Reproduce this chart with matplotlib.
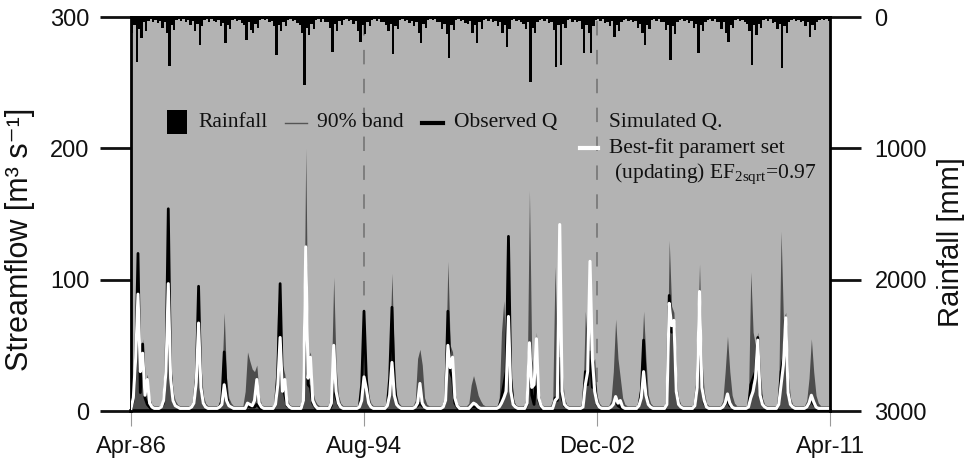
import matplotlib
matplotlib.use("Agg")
import matplotlib.pyplot as plt
from matplotlib.lines import Line2D
from matplotlib.patches import Rectangle
import numpy as np

# ── Colours ──────────────────────────────────────────────────────────────────
BG_PLOT = "#B3B3B3"   # light grey plotting area
BAND    = "#4D4D4D"   # 90% uncertainty band
DASH    = "#7A7A7A"   # period separators
TXT     = "#111111"

plt.rcParams["font.family"] = ["Liberation Sans", "DejaVu Sans"]
plt.rcParams["mathtext.fontset"] = "custom"
plt.rcParams["mathtext.rm"] = "Liberation Serif"
plt.rcParams["mathtext.it"] = "Liberation Serif:italic"

# ── Data: monthly values, Apr-1986 (month 0) .. Apr-2011 (month 300) ─────────
tick_months = [0, 100, 200, 300]
tick_labels = ["Apr-86", "Aug-94", "Dec-02", "Apr-11"]
split_months = [100, 200]

observed_q = [
    2, 8, 35, 120, 14, 51, 10, 5, 3, 1, 1, 1,
    1, 3, 6, 30, 154, 28, 8, 4, 3, 1, 1, 1,
    1, 1, 3, 6, 25, 95, 20, 6, 3, 1, 1, 1,
    1, 1, 3, 8, 45, 12, 4, 3, 1, 1, 1, 1,
    1, 1, 4, 3, 3, 3, 5, 3, 1, 1, 1, 1,
    1, 1, 5, 30, 97, 20, 12, 4, 3, 1, 1, 1,
    1, 1, 8, 110, 20, 18, 6, 3, 1, 1, 1, 1,
    1, 1, 4, 20, 10, 5, 3, 1, 1, 1, 1, 1,
    1, 1, 3, 20, 76, 25, 6, 3, 1, 1, 1, 1,
    1, 1, 4, 25, 79, 20, 6, 3, 1, 1, 1, 1,
    1, 1, 3, 4, 6, 4, 3, 1, 1, 1, 1, 1,
    1, 1, 3, 8, 76, 30, 25, 6, 3, 1, 1, 1,
    1, 1, 3, 3, 3, 2, 1, 1, 1, 1, 1, 1,
    1, 1, 3, 10, 20, 30, 133, 25, 6, 3, 1, 1,
    1, 1, 5, 45, 12, 5, 30, 8, 3, 1, 1, 1,
    1, 1, 10, 8, 40, 10, 4, 3, 1, 1, 1, 1,
    1, 1, 3, 30, 20, 45, 18, 20, 5, 3, 1, 1,
    1, 1, 3, 5, 8, 4, 3, 1, 1, 1, 1, 1,
    1, 1, 4, 15, 54, 15, 5, 3, 1, 1, 1, 1,
    1, 1, 5, 88, 60, 63, 15, 5, 3, 1, 1, 1,
    1, 1, 4, 20, 85, 20, 6, 3, 1, 1, 1, 1,
    1, 1, 3, 5, 8, 4, 3, 1, 1, 1, 1, 1,
    1, 3, 20, 25, 30, 56, 15, 5, 3, 1, 1, 1,
    1, 1, 5, 30, 40, 65, 15, 5, 3, 1, 1, 1,
    1, 1, 3, 5, 8, 5, 3, 1, 1, 1, 1, 1,
    1,
]

simulated_q = [
    2, 10, 40, 89, 30, 44, 12, 24, 6, 3, 2, 2,
    2, 3, 8, 30, 97, 25, 8, 4, 3, 2, 2, 2,
    2, 2, 3, 6, 22, 67, 18, 6, 3, 2, 2, 2,
    2, 2, 3, 5, 20, 8, 4, 3, 2, 2, 2, 2,
    2, 2, 6, 5, 4, 8, 24, 6, 3, 2, 2, 2,
    2, 2, 5, 20, 56, 15, 24, 5, 3, 2, 2, 2,
    2, 2, 8, 125, 25, 41, 8, 4, 2, 2, 2, 2,
    2, 2, 6, 50, 15, 6, 3, 2, 2, 2, 2, 2,
    2, 2, 3, 8, 26, 17, 6, 3, 2, 2, 2, 2,
    2, 2, 4, 12, 37, 12, 5, 3, 2, 2, 2, 2,
    2, 2, 3, 6, 21, 6, 3, 2, 2, 2, 2, 2,
    2, 2, 3, 8, 50, 33, 41, 10, 4, 2, 2, 2,
    2, 2, 4, 6, 5, 3, 2, 2, 2, 2, 2, 2,
    2, 2, 3, 6, 10, 15, 72, 15, 5, 3, 2, 2,
    2, 2, 6, 52, 18, 20, 55, 10, 4, 2, 2, 2,
    2, 2, 8, 10, 142, 15, 5, 3, 2, 2, 2, 2,
    2, 2, 3, 20, 30, 114, 40, 15, 6, 3, 2, 2,
    2, 2, 3, 5, 11, 6, 8, 3, 2, 2, 2, 2,
    2, 2, 4, 10, 30, 12, 5, 3, 2, 2, 2, 2,
    2, 2, 5, 82, 65, 69, 15, 5, 3, 2, 2, 2,
    2, 2, 4, 18, 91, 18, 8, 3, 2, 2, 2, 2,
    2, 2, 3, 6, 13, 6, 3, 2, 2, 2, 2, 2,
    2, 3, 10, 15, 25, 54, 12, 5, 3, 2, 2, 2,
    2, 2, 5, 20, 35, 71, 14, 5, 3, 2, 2, 2,
    2, 2, 3, 6, 12, 7, 3, 2, 2, 2, 2, 2,
    2,
]

band_upper = [
    4, 15, 50, 120, 30, 55, 20, 28, 10, 5, 4, 4,
    4, 5, 15, 40, 154, 40, 15, 8, 5, 4, 4, 4,
    4, 4, 5, 10, 35, 95, 35, 12, 6, 4, 4, 4,
    4, 4, 6, 25, 75, 25, 10, 6, 4, 4, 4, 4,
    4, 15, 45, 38, 32, 30, 35, 12, 5, 4, 4, 4,
    4, 4, 10, 84, 60, 35, 28, 10, 5, 4, 4, 4,
    4, 5, 15, 200, 40, 45, 15, 8, 5, 4, 4, 4,
    4, 5, 25, 102, 35, 12, 6, 4, 4, 4, 4, 4,
    4, 4, 6, 30, 76, 30, 12, 6, 4, 4, 4, 4,
    4, 4, 10, 45, 105, 35, 12, 6, 4, 4, 4, 4,
    4, 4, 8, 40, 47, 35, 10, 5, 4, 4, 4, 4,
    4, 4, 6, 30, 114, 50, 45, 15, 6, 4, 4, 4,
    4, 6, 20, 27, 20, 12, 8, 5, 4, 4, 4, 4,
    4, 4, 8, 60, 84, 40, 70, 30, 10, 5, 4, 4,
    4, 5, 15, 168, 40, 30, 60, 15, 6, 4, 4, 4,
    4, 8, 110, 40, 60, 30, 10, 5, 4, 4, 4, 4,
    4, 4, 10, 76, 50, 60, 35, 40, 12, 6, 4, 4,
    4, 4, 8, 30, 70, 40, 25, 10, 5, 4, 4, 4,
    4, 4, 10, 35, 76, 40, 12, 6, 4, 4, 4, 4,
    4, 4, 15, 130, 80, 75, 25, 10, 5, 4, 4, 4,
    4, 4, 10, 45, 112, 40, 15, 6, 4, 4, 4, 4,
    4, 4, 8, 30, 57, 30, 12, 6, 4, 4, 4, 4,
    4, 6, 106, 60, 50, 60, 30, 10, 5, 4, 4, 4,
    4, 4, 15, 137, 70, 75, 30, 10, 5, 4, 4, 4,
    4, 4, 8, 25, 55, 30, 12, 6, 4, 4, 4, 4,
    4,
]

rainfall_mm = [
    120, 60, 343, 90, 160, 40, 110, 30, 15, 35, 20, 45,
    30, 80, 40, 120, 373, 60, 100, 25, 15, 30, 10, 40,
    25, 60, 30, 110, 50, 213, 70, 20, 10, 35, 15, 30,
    40, 20, 70, 45, 198, 60, 90, 25, 10, 30, 20, 45,
    60, 175, 40, 100, 120, 50, 80, 20, 15, 25, 10, 40,
    30, 70, 290, 60, 110, 40, 70, 25, 10, 30, 20, 45,
    60, 120, 518, 80, 140, 50, 90, 20, 15, 35, 15, 40,
    40, 80, 266, 50, 110, 30, 60, 20, 10, 30, 20, 50,
    30, 110, 190, 60, 130, 40, 70, 25, 10, 30, 15, 40,
    40, 60, 110, 50, 282, 70, 90, 20, 15, 30, 20, 45,
    30, 70, 40, 120, 198, 50, 80, 25, 10, 25, 15, 40,
    40, 90, 50, 130, 312, 60, 100, 20, 10, 30, 20, 45,
    50, 30, 120, 60, 198, 40, 90, 25, 15, 30, 15, 40,
    30, 70, 40, 120, 60, 228, 90, 20, 10, 30, 20, 40,
    50, 90, 40, 495, 80, 120, 40, 20, 15, 30, 15, 45,
    40, 100, 380, 60, 365, 50, 80, 20, 10, 35, 20, 40,
    30, 90, 274, 60, 120, 274, 70, 25, 10, 30, 15, 45,
    40, 70, 30, 152, 60, 110, 40, 20, 10, 30, 20, 40,
    30, 80, 50, 120, 213, 60, 90, 25, 15, 30, 15, 40,
    40, 100, 60, 327, 70, 130, 40, 20, 10, 30, 20, 45,
    30, 80, 50, 274, 60, 110, 40, 25, 10, 30, 15, 40,
    40, 90, 40, 120, 190, 60, 80, 20, 15, 30, 20, 40,
    50, 110, 365, 60, 140, 50, 80, 25, 10, 30, 15, 45,
    40, 90, 50, 388, 70, 120, 40, 20, 10, 30, 20, 40,
    30, 70, 40, 152, 60, 100, 40, 20, 10, 25, 15, 30,
]

months = np.arange(len(observed_q))
rain_months = np.arange(len(rainfall_mm))

# ── Figure ───────────────────────────────────────────────────────────────────
fig = plt.figure(figsize=(9.64, 4.70), dpi=100)
fig.patch.set_facecolor("white")
ax = fig.add_axes([0.1359, 0.1255, 0.7251, 0.8383])
ax.set_facecolor(BG_PLOT)

for m in split_months:
    ax.axvline(m, color=DASH, lw=1.3, ls=(0, (8, 8)), zorder=1)

ax.fill_between(months, 0, band_upper, color=BAND, lw=0, zorder=2)
ax.plot(months, observed_q, color="black", lw=2.0, zorder=3)
ax.plot(months, simulated_q, color="white", lw=2.2, zorder=4)

ax.set_xlim(0, 300)
ax.set_ylim(0, 300)
ax.set_yticks([0, 100, 200, 300])
ax.set_xticks(tick_months)
ax.set_xticklabels(tick_labels)

for side in ["left", "top"]:
    ax.spines[side].set_linewidth(2.0)
ax.spines["bottom"].set_linewidth(2.6)
ax.spines["right"].set_visible(False)

ax.tick_params(axis="y", length=22, width=2.0, labelsize=17, pad=8, colors=TXT)
ax.tick_params(axis="x", length=11, width=0.8, color="#999999", labelsize=17,
               pad=7, labelcolor=TXT)
ax.set_ylabel("Streamflow [m³ s⁻¹]", fontsize=22, color=TXT)
ax.yaxis.set_label_coords(-0.138, 0.435)

# ── Rainfall on inverted right axis ─────────────────────────────────────────
ax2 = ax.twinx()
ax2.bar(rain_months, rainfall_mm, width=1.0, align="edge", color="black",
        lw=0, zorder=2)
ax2.set_ylim(3000, 0)
ax2.set_yticks([0, 1000, 2000, 3000])
ax2.spines["right"].set_linewidth(2.0)
ax2.spines["top"].set_linewidth(2.0)
ax2.spines["left"].set_visible(False)
ax2.spines["bottom"].set_visible(False)
ax2.tick_params(axis="y", length=22, width=2.0, labelsize=17, pad=10, colors=TXT)
ax2.set_ylabel("Rainfall [mm]", fontsize=21, color=TXT)
ax2.yaxis.set_label_coords(1.153, 0.43)

# ── Hand-built legend (axes fraction coordinates) ───────────────────────────
serif = dict(family="Liberation Serif", fontsize=15.5, color=TXT, va="center",
             transform=ax.transAxes, zorder=6)
row1 = 0.732
ax.add_patch(Rectangle((0.0515, 0.703), 0.0286, 0.061, transform=ax.transAxes,
                       facecolor="black", edgecolor="none", zorder=6))
ax.text(0.0959, row1, "Rainfall", **serif)
ax.add_line(Line2D([0.2203, 0.2518], [row1, row1], transform=ax.transAxes,
                   color="#555555", lw=1.0, zorder=6))
ax.text(0.2661, row1, "90% band", **serif)
ax.add_line(Line2D([0.4163, 0.4464], [row1, row1], transform=ax.transAxes,
                   color="black", lw=3.0, zorder=6))
ax.text(0.4621, row1, "Observed Q", **serif)

ax.text(0.6838, row1, "Simulated Q.", **serif)
ax.add_line(Line2D([0.6423, 0.668], [0.6675, 0.6675], transform=ax.transAxes,
                   color="white", lw=3.0, zorder=6))
ax.text(0.6838, 0.6675, "Best-fit paramert set", **serif)
ax.text(0.6838, 0.6015, r" (updating) EF$_{\mathrm{2sqrt}}$=0.97", **serif)

fig.savefig("out.png", dpi=100, facecolor="white")
